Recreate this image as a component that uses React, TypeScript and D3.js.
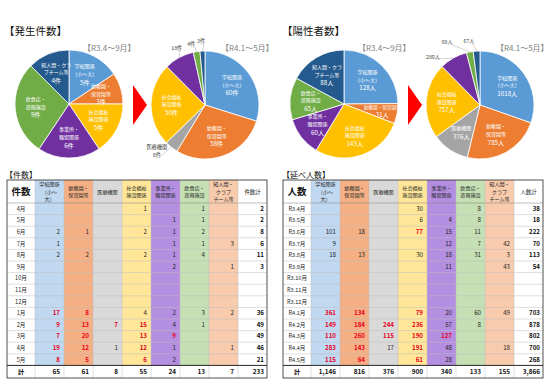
import React from "react";
import * as d3 from "d3";

const categoryNames: string[][] = [
  ["学校関係", "（小～大）"],
  ["幼稚園・", "保育園等"],
  ["医療機関"],
  ["社会福祉", "施設関係"],
  ["事業所・", "職場関係"],
  ["飲食店・", "遊興施設"],
  ["知人間・クラ", "ブチーム等"],
];
const headerNames: string[][] = [
  ["学校関係", "（小～", "大）"],
  ["幼稚園・", "保育園等"],
  ["医療機関"],
  ["社会福祉", "施設関係"],
  ["事業所・", "職場関係"],
  ["飲食店・", "遊興施設"],
  ["知人間・", "クラブ", "チーム等"],
];
const pieColors = ["#5b9bd5", "#ed7d31", "#a5a5a5", "#ffc000", "#7030a0", "#70ad47", "#245a8e"];
const cellColors = ["#c0d8f0", "#f4b084", "#d9d9d9", "#ffe699", "#b48ee0", "#c5e0b4", "#f8cbad"];

const casesR3 = [5, 3, 0, 5, 6, 9, 4];
const casesR4 = [60, 58, 8, 50, 18, 4, 3];
const positivesR3 = [128, 31, 0, 143, 60, 65, 88];
const positivesR4 = [1018, 785, 376, 757, 280, 68, 67];

const caseMonths = ["4月", "5月", "6月", "7月", "8月", "9月", "10月", "11月", "12月", "1月", "2月", "3月", "4月", "5月"];
const caseRows: (number | null)[][] = [
  [null, null, null, 1, null, 1, null],
  [null, null, null, null, 1, 1, null],
  [2, 1, null, 2, 1, 2, null],
  [1, null, null, null, 1, 1, 3],
  [2, 2, null, 2, 1, 4, null],
  [null, null, null, null, 2, null, 1],
  [null, null, null, null, null, null, null],
  [null, null, null, null, null, null, null],
  [null, null, null, null, null, null, null],
  [17, 8, null, 4, 2, 3, 2],
  [9, 13, 7, 15, 4, 1, null],
  [7, 20, null, 13, 9, null, null],
  [19, 12, 1, 12, 1, null, 1],
  [8, 5, null, 6, 2, null, null],
];
const caseRedThreshold = 5;

const positiveMonths = ["R3.4月", "R3.5月", "R3.6月", "R3.7月", "R3.8月", "R3.9月", "R3.10月", "R3.11月", "R3.12月", "R4.1月", "R4.2月", "R4.3月", "R4.4月", "R4.5月"];
const positiveRows: (number | null)[][] = [
  [null, null, null, 30, null, 8, null],
  [null, null, null, 6, 4, 8, null],
  [101, 18, null, 77, 15, 11, null],
  [9, null, null, null, 12, 7, 42],
  [18, 13, null, 30, 18, 31, 3],
  [null, null, null, null, 11, null, 43],
  [null, null, null, null, null, null, null],
  [null, null, null, null, null, null, null],
  [null, null, null, null, null, null, null],
  [361, 134, null, 79, 20, 60, 49],
  [149, 184, 244, 236, 57, 8, null],
  [110, 260, 115, 190, 127, null, null],
  [283, 143, 17, 191, 48, null, 18],
  [115, 64, null, 61, 28, null, null],
];
const positiveRedCols: number[][] = [[], [], [3], [], [], [], [], [], [], [0, 1, 3], [0, 1, 2, 3], [0, 1, 2, 3, 4], [0, 1, 3], [0, 1, 3]];

const FONT = "'Noto Sans CJK JP', 'Noto Sans', sans-serif";
const fmt = d3.format(",");

type PieProps = {
  cx: number; cy: number; r: number; values: number[]; unit: string;
  outside: number[]; outsideNamed: number[]; nudges: Record<number, [number, number]>;
};

function Pie({ cx, cy, r, values, unit, outside, outsideNamed, nudges }: PieProps) {
  const arcs = d3.pie<number>().sort(null).value((d) => d)(values);
  const arc = d3.arc<d3.PieArcDatum<number>>().innerRadius(0).outerRadius(r);
  const out: React.ReactNode[] = [];
  const labels: React.ReactNode[] = [];
  arcs.forEach((a, i) => {
    if (a.value <= 0) return;
    out.push(<path key={"s" + i} d={arc(a) || ""} fill={pieColors[i]} stroke="#fff" strokeWidth={0.8} />);
    const mid = (a.startAngle + a.endAngle) / 2;
    const span = ((a.endAngle - a.startAngle) * 180) / Math.PI;
    if (outside.includes(i)) {
      const nd = nudges[i] || [0, 0];
      const lr = r + 9;
      const lx = Math.sin(mid) * lr + nd[0];
      const ly = -Math.cos(mid) * lr + nd[1];
      const ex = Math.sin(mid) * r;
      const ey = -Math.cos(mid) * r;
      const lines = outsideNamed.includes(i) ? [...categoryNames[i], a.value + unit] : [a.value + unit];
      const lh = 7.8;
      const h = lines.length * lh;
      labels.push(
        <g key={"o" + i}>
          <line x1={ex} y1={ey} x2={lx + (lx < ex ? 3 : -3)} y2={ly + h / 2 - 3} stroke="#a6a6a6" strokeWidth={0.5} />
          <text x={lx} y={ly - h / 2 + 5} fontSize={5.2} fill="#404040" textAnchor="middle" fontFamily={FONT}>
            {lines.map((t, k) => (
              <tspan key={k} x={lx} dy={k === 0 ? 0 : lh}>{t}</tspan>
            ))}
          </text>
        </g>
      );
    } else {
      const narrow = span < 25;
      const lines = narrow ? [categoryNames[i].join(""), a.value + unit] : [...categoryNames[i], a.value + unit];
      const rr = narrow ? r * 0.72 : r * 0.62;
      const lx = Math.sin(mid) * rr;
      const ly = -Math.cos(mid) * rr;
      const nameFs = narrow ? 4.6 : 5;
      const valFs = 6.2;
      const gaps = lines.map((_, k) => (k === 0 ? 0 : k === lines.length - 1 ? 0.3 * nameFs + 1.18 * valFs : 1.48 * nameFs));
      const h = d3.sum(gaps);
      labels.push(
        <text key={"l" + i} x={lx} y={ly - h / 2 + 2} fill="#fff" textAnchor="middle" fontFamily={FONT}>
          {lines.map((t, k) => (
            <tspan key={k} x={lx} dy={gaps[k]} fontSize={k === lines.length - 1 ? valFs : nameFs}>{t}</tspan>
          ))}
        </text>
      );
    }
  });
  return (
    <g transform={`translate(${cx},${cy})`}>
      {out}
      {labels}
    </g>
  );
}

type TableProps = {
  x0: number; y0: number; corner: string; totalHeader: string; rowLabels: string[];
  rows: (number | null)[][]; isRed: (r: number, c: number, v: number) => boolean;
};

function Table({ x0, y0, corner, totalHeader, rowLabels, rows, isRed }: TableProps) {
  const labelW = 28;
  const colW = 29;
  const headerH = 23;
  const rowH = 11.6;
  const totalH = 12.6;
  const nCols = headerNames.length;
  const xs = d3.range(nCols).map((c) => x0 + labelW + c * colW);
  const totalX = x0 + labelW + nCols * colW;
  const width = labelW + (nCols + 1) * colW;
  const bodyY = y0 + headerH;
  const totalY = bodyY + rows.length * rowH;
  const bottom = totalY + totalH;
  const colTotals = d3.range(nCols).map((c) => d3.sum(rows, (r) => r[c] ?? 0));
  const grand = d3.sum(colTotals);
  const els: React.ReactNode[] = [];
  xs.forEach((x, c) => {
    els.push(<rect key={"bg" + c} x={x} y={y0} width={colW} height={totalY - y0} fill={cellColors[c]} />);
  });
  rows.forEach((_, r) => {
    const y = bodyY + r * rowH;
    els.push(<line key={"h" + r} x1={x0} x2={x0 + width} y1={y} y2={y} stroke={r === 0 ? "#7f7f7f" : "#bfbfbf"} strokeWidth={0.5} />);
  });
  [x0 + labelW, ...xs.slice(1), totalX].forEach((x, k) => {
    els.push(<line key={"v" + k} x1={x} x2={x} y1={y0} y2={bottom} stroke="#bfbfbf" strokeWidth={0.5} />);
  });
  els.push(
    <text key="corner" x={x0 + labelW / 2} y={y0 + headerH / 2 + 3.4} fontSize={9.5} fontWeight={700} textAnchor="middle" fontFamily={FONT} fill="#111">{corner}</text>
  );
  headerNames.forEach((lines, c) => {
    const cx = xs[c] + colW / 2;
    const lh = 7.5;
    const startY = y0 + headerH / 2 - ((lines.length - 1) * lh) / 2 + 2;
    els.push(
      <text key={"hd" + c} x={cx} y={startY} fontSize={5.1} textAnchor="middle" fontFamily={FONT} fill="#262626">
        {lines.map((t, k) => (
          <tspan key={k} x={cx} dy={k === 0 ? 0 : lh}>{t}</tspan>
        ))}
      </text>
    );
  });
  els.push(
    <text key="tothd" x={totalX + colW / 2} y={y0 + headerH / 2 + 2} fontSize={5.4} textAnchor="middle" fontFamily={FONT} fill="#262626">{totalHeader}</text>
  );
  rows.forEach((row, r) => {
    const cy = bodyY + r * rowH + rowH / 2 + 2;
    els.push(
      <text key={"rl" + r} x={x0 + labelW / 2} y={cy} fontSize={5.6} textAnchor="middle" fontFamily={FONT} fill="#262626">{rowLabels[r]}</text>
    );
    row.forEach((v, c) => {
      if (v == null) return;
      const red = isRed(r, c, v);
      els.push(
        <text key={`c${r}-${c}`} x={xs[c] + colW - 4} y={cy} fontSize={6.2} textAnchor="end" fontFamily={FONT} fontWeight={red ? 700 : 400} fill={red ? "#e8001c" : "#262626"}>{fmt(v)}</text>
      );
    });
    const hasAny = row.some((v) => v != null);
    if (hasAny) {
      els.push(
        <text key={"rt" + r} x={totalX + colW - 3} y={cy} fontSize={6.2} textAnchor="end" fontFamily={FONT} fontWeight={700} fill="#111">{fmt(d3.sum(row, (v) => v ?? 0))}</text>
      );
    }
  });
  const ty = totalY + totalH / 2 + 2.2;
  els.push(<line key="tline" x1={x0} x2={x0 + width} y1={totalY} y2={totalY} stroke="#262626" strokeWidth={1} />);
  els.push(
    <text key="tl" x={x0 + labelW / 2} y={ty} fontSize={6.2} fontWeight={700} textAnchor="middle" fontFamily={FONT} fill="#111">計</text>
  );
  colTotals.forEach((v, c) => {
    els.push(
      <text key={"ct" + c} x={xs[c] + colW - 4} y={ty} fontSize={6.4} fontWeight={700} textAnchor="end" fontFamily={FONT} fill="#111">{fmt(v)}</text>
    );
  });
  els.push(
    <text key="gt" x={totalX + colW - 3} y={ty} fontSize={6.4} fontWeight={700} textAnchor="end" fontFamily={FONT} fill="#111">{fmt(grand)}</text>
  );
  els.push(<rect key="border" x={x0} y={y0} width={width} height={bottom - y0} fill="none" stroke="#262626" strokeWidth={0.8} />);
  return <g>{els}</g>;
}

function Arrow({ x, y }: { x: number; y: number }) {
  const pts = [[x, y - 20], [x + 14, y], [x, y + 20]].map((p) => p.join(",")).join(" ");
  return <polygon points={pts} fill="#ff0000" />;
}

export default function App() {
  return (
    <svg width={550} height={381} style={{ position: "absolute", left: 0, top: 0, background: "#fff" }} fontFamily={FONT}>
      <rect width={550} height={381} fill="#fff" />
      <text x={4} y={35} fontSize={10.5} fill="#111" fontFamily={FONT}>【発生件数】</text>
      <text x={282} y={35} fontSize={10.5} fill="#111" fontFamily={FONT}>【陽性者数】</text>
      <text x={83} y={51} fontSize={8} fill="#7f7f7f" fontFamily={FONT}>【R3.4～9月】</text>
      <text x={221} y={51} fontSize={8} fill="#7f7f7f" fontFamily={FONT}>【R4.1～5月】</text>
      <text x={358} y={51} fontSize={8} fill="#7f7f7f" fontFamily={FONT}>【R3.4～9月】</text>
      <text x={496} y={51} fontSize={8} fill="#7f7f7f" fontFamily={FONT}>【R4.1～5月】</text>

      <Pie cx={69} cy={104} r={54} values={casesR3} unit="件" outside={[]} outsideNamed={[]} nudges={{}} />
      <Pie cx={205} cy={105} r={54} values={casesR4} unit="件" outside={[2, 4, 5, 6]} outsideNamed={[2]} nudges={{ 2: [-9, -2], 4: [2, -1], 5: [-4, 2], 6: [-1, 0] }} />
      <Pie cx={344} cy={104} r={54} values={positivesR3} unit="人" outside={[]} outsideNamed={[]} nudges={{}} />
      <Pie cx={480} cy={105} r={54} values={positivesR4} unit="人" outside={[4, 5, 6]} outsideNamed={[]} nudges={{ 4: [-16, 8], 5: [-21, 0], 6: [-7, 0] }} />

      <Arrow x={133} y={105} />
      <Arrow x={408} y={105} />

      <text x={5} y={177.5} fontSize={8} fill="#111" fontFamily={FONT}>【件数】</text>
      <text x={282} y={177.5} fontSize={8} fill="#111" fontFamily={FONT}>【延べ人数】</text>

      <Table x0={7} y0={180} corner="件数" totalHeader="件数計" rowLabels={caseMonths} rows={caseRows}
        isRed={(r, c, v) => v >= caseRedThreshold} />
      <Table x0={283} y0={180} corner="人数" totalHeader="人数計" rowLabels={positiveMonths} rows={positiveRows}
        isRed={(r, c) => positiveRedCols[r].includes(c)} />
    </svg>
  );
}
